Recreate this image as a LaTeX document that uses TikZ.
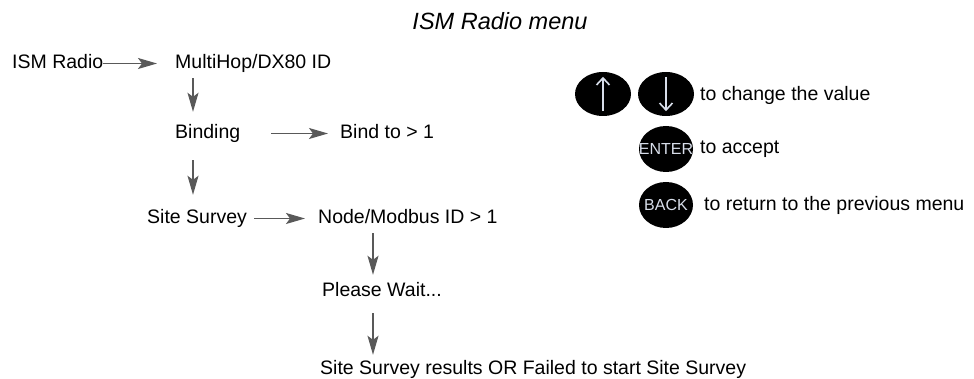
\documentclass[tikz,border=0pt]{standalone}
\usepackage{fontspec}
\setmainfont{Liberation Sans}
\usetikzlibrary{arrows.meta,shapes.geometric}

\definecolor{keyarrow}{HTML}{D8DEEA}

\begin{document}
\begin{tikzpicture}[
    x=1pt,
    y=-1pt,
    line join=round,
    every node/.style={inner sep=0pt, font=\fontsize{19.5}{22}\selectfont},
    item/.style={anchor=base west, text height=15pt, text depth=4pt},
    flow/.style={draw=black!65, line width=1.3pt,
        -{Stealth[length=19pt, width=11pt, inset=4pt]}},
    key/.style={ellipse, fill=black, minimum width=56pt, minimum height=44pt},
    keytext/.style={font=\fontsize{16}{18}\selectfont, text=keyarrow},
    keyarr/.style={keyarrow, line width=1.6pt, -{Straight Barb[length=7pt, width=13pt]}},
    hint/.style={anchor=west}
]
    \useasboundingbox (0,0) rectangle (974,379);

    % 标题
    \node[font=\fontsize{23.5}{26}\selectfont] (title) at (500,21) {\itshape ISM Radio menu};

    % 菜单项
    \node[item] (ism)    at (12,69)   {ISM Radio};
    \node[item] (multi)  at (175,69)  {MultiHop/DX80 ID};
    \node[item] (bind)   at (175,139) {Binding};
    \node[item] (bindto) at (340,139) {Bind to > 1};
    \node[item] (site)   at (147,224) {Site Survey};
    \node[item] (nodeid) at (318,224) {Node/Modbus ID > 1};
    \node[item] (wait)   at (322,297) {Please Wait...};
    \node[item] (result) at (320,374) {Site Survey results OR Failed to start Site Survey};

    % 横向箭头
    \draw[flow, shorten >=18pt] (ism.east) -- (multi.west);
    \draw[flow, shorten <=31pt, shorten >=12pt] (bind.east) -- (bindto.west);
    \draw[flow, shorten <=7pt, shorten >=13pt] (site.east) -- (nodeid.west);

    % 纵向箭头
    \draw[flow, shorten <=5pt, shorten >=12pt]
        ([xshift=18pt]multi.south west) -- ([xshift=18pt]bind.north west);
    \draw[flow, shorten <=17pt, shorten >=14pt]
        ([xshift=18pt]bind.south west) -- ([xshift=46pt]site.north west);
    \draw[flow, shorten <=5pt, shorten >=7pt]
        ([xshift=55pt]nodeid.south west) -- ([xshift=51pt]wait.north west);
    \draw[flow, shorten <=12pt, shorten >=4pt]
        ([xshift=51pt]wait.south west) -- ([xshift=53pt]result.north west);

    % 按键说明
    \node[key] (up)   at (603,94) {};
    \node[key] (down) at (666,94) {};
    \node[key, minimum width=54pt, minimum height=46pt,
        label={[keytext]center:ENTER}] (enter) at (666,149) {};
    \node[key, minimum width=54pt, minimum height=46pt,
        label={[keytext]center:BACK}] (back) at (666,205) {};

    \draw[keyarr] ([yshift=5pt]up.south) -- ([yshift=-5pt]up.north);
    \draw[keyarr] ([yshift=-5pt]down.north) -- ([yshift=5pt]down.south);

    \node[hint] (tchange) at (700,95)  {to change the value};
    \node[hint] (taccept) at (700,149) {to accept};
    \node[hint] (treturn) at (704,205) {to return to the previous menu};

\end{tikzpicture}
\end{document}
